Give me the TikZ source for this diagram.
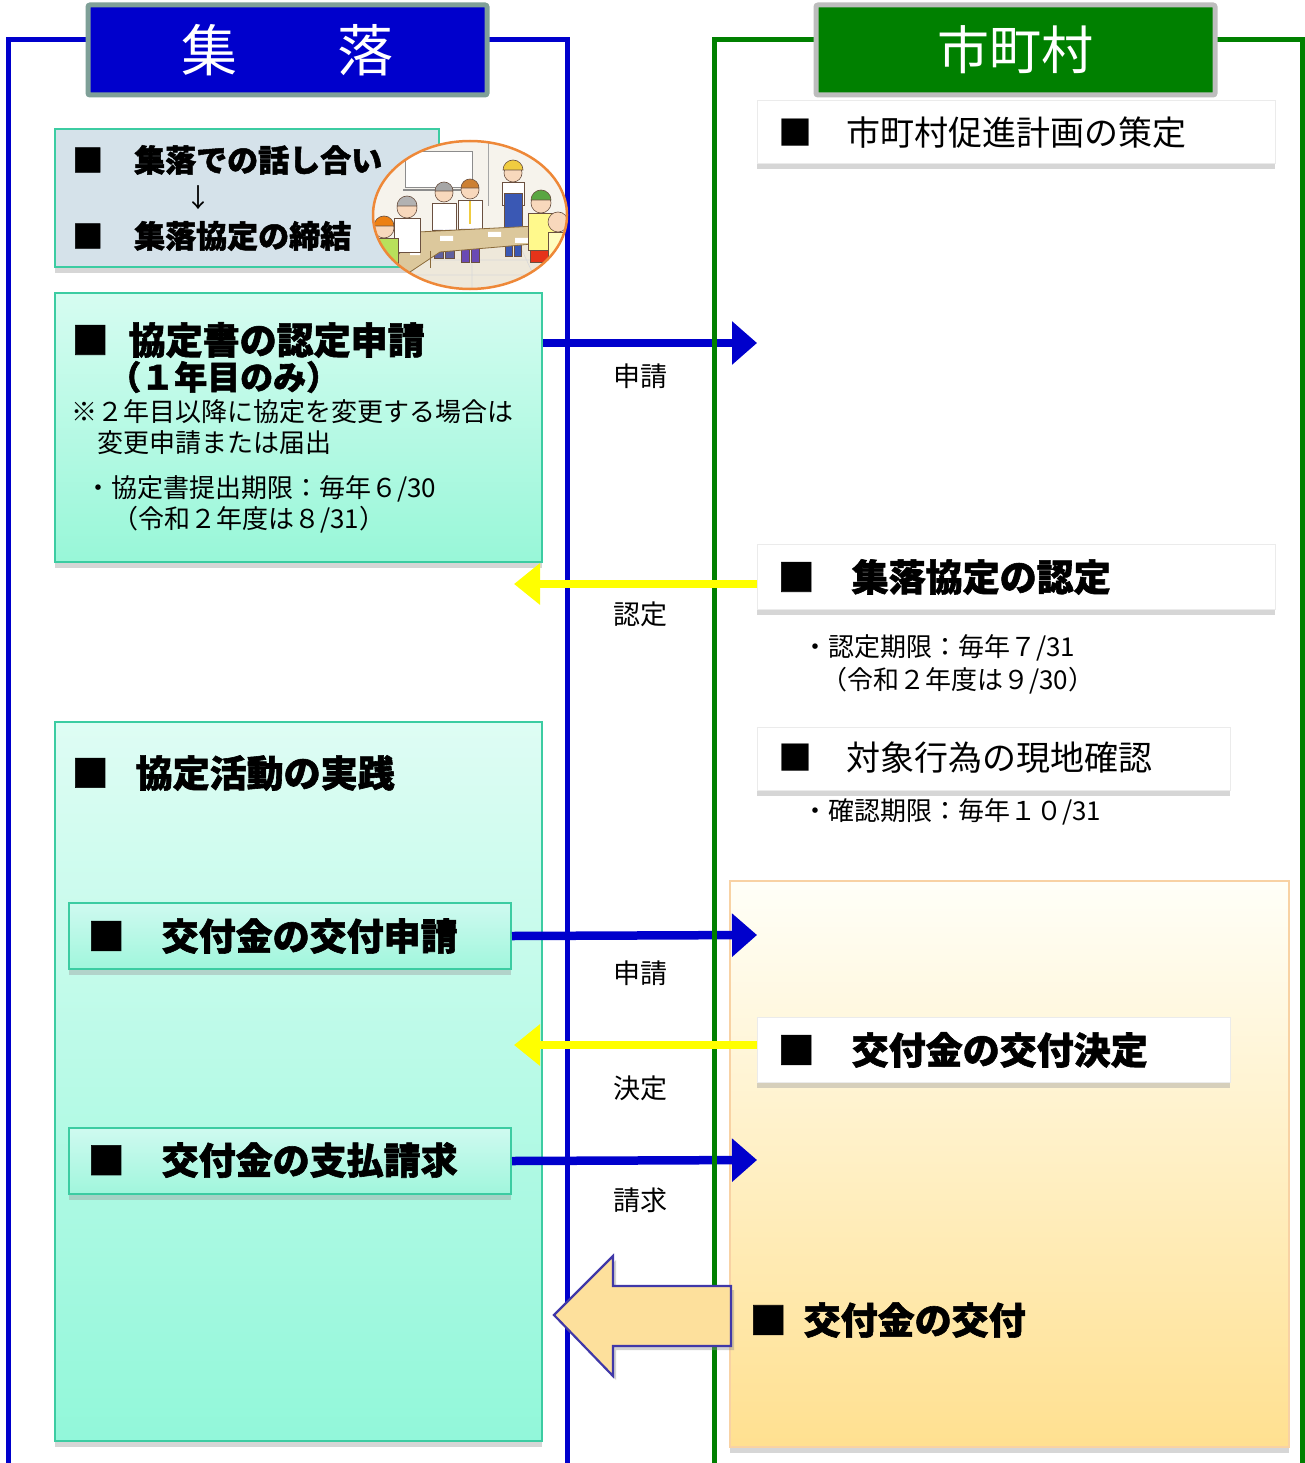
\documentclass[tikz,border=0pt]{standalone}
\usepackage{fontspec}
\setmainfont{Noto Sans CJK JP}[BoldFeatures={FakeBold=1.6}]
\usetikzlibrary{arrows.meta,shadows,calc}

\definecolor{frameblue}{HTML}{0000CC}
\definecolor{framegreen}{HTML}{008000}
\definecolor{titleblueedge}{HTML}{7FA098}
\definecolor{titlegreenedge}{HTML}{BDBDBD}
\definecolor{tealedge}{HTML}{3CCCA2}
\definecolor{talkfill}{HTML}{D5E2EA}
\definecolor{minttop}{HTML}{D6FCF1}
\definecolor{mintbottom}{HTML}{98F7D8}
\definecolor{inner top}{HTML}{CFFAF0}
\definecolor{innerbottom}{HTML}{A0F6DC}
\definecolor{creamtop}{HTML}{FFFFF8}
\definecolor{creambottom}{HTML}{FFE090}
\definecolor{creamedge}{HTML}{F8D2A4}
\definecolor{backyellow}{HTML}{FFFF00}
\definecolor{blockfill}{HTML}{FDE09C}
\definecolor{blockedge}{HTML}{4038A8}
\definecolor{ringorange}{HTML}{EE8838}
\definecolor{wallcol}{HTML}{F6F3EC}
\definecolor{floorcol}{HTML}{EEE8DA}
\definecolor{skin}{HTML}{F8D8BC}
\definecolor{ink}{HTML}{6A5040}
\definecolor{capyellow}{HTML}{F0CC40}
\definecolor{capgreen}{HTML}{5AA642}
\definecolor{overall}{HTML}{3A58B4}
\definecolor{pants}{HTML}{6A4AB4}
\definecolor{tabletop}{HTML}{DCC89C}
\definecolor{tableedge}{HTML}{8A6A3A}

\begin{document}
\begin{tikzpicture}[x=1pt,y=-1pt,
  boxtext/.style={anchor=west, inner sep=0pt, text=black},
  heavy/.style={boxtext, font=\fontsize{37}{40}\selectfont\bfseries},
  heavysm/.style={boxtext, font=\fontsize{31}{34}\selectfont\bfseries},
  plainbig/.style={boxtext, font=\fontsize{34}{38}\selectfont},
  note/.style={boxtext, font=\fontsize{26}{30}\selectfont},
  tag/.style={inner sep=0pt, font=\fontsize{27}{30}\selectfont},
  shadowed/.style={drop shadow={shadow xshift=0pt, shadow yshift=-6pt, fill=black!40, opacity=0.4}},
  panel/.style={rectangle, anchor=north west, inner sep=0pt, draw=tealedge, line width=2pt, shadowed},
  card/.style={rectangle, anchor=north west, inner sep=0pt, fill=white, draw=black!8, line width=0.8pt, shadowed},
  title/.style={rectangle, inner sep=0pt, line width=5pt, rounded corners=2pt, text=white,
    font=\fontsize{56}{60}\selectfont, minimum width=399pt, minimum height=90pt},
  push/.style={draw=frameblue, line width=8.5pt, -{Triangle[length=25pt,width=42pt]}},
  back/.style={draw=backyellow, line width=8pt, -{Triangle[length=26pt,width=40pt]}},
  person/.style={draw=ink, line width=0.6pt},
]
\useasboundingbox (0,0) rectangle (1305,1463);
\fill[white] (0,0) rectangle (1305,1463);

% ---------- village column ----------
\draw[frameblue, line width=5pt] (8,1470) -- (8,40) -- (567,40) -- (567,1470);

\node[panel, fill=talkfill, minimum width=384pt, minimum height=138pt] (talk) at (54,128) {};
\node[panel, top color=minttop, bottom color=mintbottom, minimum width=487pt, minimum height=269pt] (accord) at (54,292) {};
\node[panel, top color=minttop!80!white, bottom color=mintbottom!96!cyan, minimum width=487pt, minimum height=719pt] (practice) at (54,721) {};
\node[panel, top color=inner top, bottom color=innerbottom, minimum width=442pt, minimum height=66pt] (apply) at (68,902) {};
\node[panel, top color=inner top, bottom color=innerbottom, minimum width=442pt, minimum height=66pt] (claim) at (68,1127) {};

% meeting illustration
\begin{scope}
  \clip (470,215) ellipse [x radius=97pt, y radius=74pt];
  \fill[wallcol] (372,141) rectangle (567,289);
  \fill[floorcol] (372,246) rectangle (567,289);
  \draw[black!15, line width=0.6pt] (372,260) -- (567,260) (372,275) -- (567,275)
       (425,246) -- (405,289) (472,246) -- (472,289) (520,246) -- (540,289);
  \draw[black!35, line width=1pt] (420,141) -- (420,150) (488,141) -- (488,206);
  \draw[black!45, fill=white, line width=1pt] (405,152) rectangle (472,188);
  \draw[black!45, line width=1.6pt] (403,190) -- (474,190);
  % standing man with cap
  \filldraw[person, fill=white] (502,182) rectangle (524,205);
  \filldraw[person, fill=overall] (504,193) rectangle (522,238);
  \filldraw[person, fill=overall] (505,238) rectangle (512,256) (514,238) rectangle (521,256);
  \filldraw[person, fill=skin] (513,173) circle (9pt);
  \filldraw[person, fill=capyellow] (503,170) arc[start angle=180, end angle=0, radius=10pt] -- cycle;
  % two men behind the table
  \filldraw[person, fill=white] (458,200) rectangle (482,229);
  \draw[capyellow, line width=2pt] (470,201) -- (470,224);
  \filldraw[person, fill=pants] (461,229) rectangle (469,262) (471,229) rectangle (479,262);
  \filldraw[person, fill=skin] (470,190) circle (9pt);
  \filldraw[person, fill=brown!80!orange] (461,188) arc[start angle=180, end angle=0, radius=9pt] -- cycle;
  \filldraw[person, fill=white] (432,203) rectangle (456,230);
  \filldraw[person, fill=blue!25!gray] (434,230) rectangle (443,258) (445,230) rectangle (454,258);
  \filldraw[person, fill=skin] (444,193) circle (9pt);
  \filldraw[person, fill=black!35] (435,191) arc[start angle=180, end angle=0, radius=9pt] -- cycle;
  % table and papers
  \filldraw[draw=tableedge, fill=tabletop, line width=0.8pt]
     (418,232) -- (536,226) -- (557,242) -- (440,252) -- (398,280) -- (384,271) -- cycle;
  \draw[tableedge, line width=1pt] (430,251) -- (430,268) (540,243) -- (540,262);
  \fill[white] (440,236) rectangle (453,241) (488,232) rectangle (501,237) (515,238) rectangle (528,243) (410,250) rectangle (420,255);
  % seated people on the left
  \filldraw[person, fill=white] (394,218) rectangle (420,252);
  \filldraw[person, fill=skin] (407,208) circle (10pt);
  \filldraw[person, fill=black!30] (397,206) arc[start angle=180, end angle=0, radius=10pt] -- cycle;
  \filldraw[person, fill=yellow!60!green!70] (372,238) rectangle (398,278);
  \filldraw[person, fill=skin] (384,228) circle (10pt);
  \filldraw[person, fill=orange!70!brown] (374,226) arc[start angle=180, end angle=0, radius=10pt] -- cycle;
  % seated people on the right
  \filldraw[person, fill=yellow!45] (528,213) rectangle (556,250);
  \filldraw[person, fill=red!60!brown] (530,250) rectangle (556,262);
  \filldraw[person, fill=skin] (541,203) circle (10pt);
  \filldraw[person, fill=capgreen] (531,200) arc[start angle=180, end angle=0, radius=10pt] -- cycle;
  \filldraw[person, fill=yellow!25] (548,232) rectangle (572,266);
  \filldraw[person, fill=skin] (558,222) circle (10pt);
\end{scope}
\draw[ringorange, line width=2.5pt] (470,215) ellipse [x radius=97pt, y radius=74pt];

% ---------- municipality panels ----------
\node[card, minimum width=518pt, minimum height=63pt] (plan) at (757,100) {};
\node[card, minimum width=518pt, minimum height=65pt] (approve) at (757,544) {};
\node[card, minimum width=473pt, minimum height=63pt] (check) at (757,727) {};
\node[rectangle, anchor=north west, inner sep=0pt, draw=creamedge, line width=1.5pt,
      top color=creamtop, bottom color=creambottom, shadowed,
      minimum width=559pt, minimum height=566pt] (grant) at (729,880) {};
\node[card, minimum width=473pt, minimum height=65pt] (decide) at (757,1017) {};

% requests sent to the municipality
\coordinate (tipA) at (757,343);
\coordinate (tipC) at (757,935);
\coordinate (tipE) at (757,1160);
\draw[push] (accord.east |- tipA) -- (tipA);
\draw[push] (apply.east) -- (tipC);
\draw[push] (claim.east) -- (tipE);

% municipality frame
\draw[framegreen, line width=5pt] (714,1470) -- (714,40) -- (1302,40) -- (1302,1470);

% replies sent back to the village
\coordinate (tipB) at (514,584);
\coordinate (tipD) at (514,1045);
\draw[back] (approve.west |- tipB) -- (tipB);
\draw[back] (decide.west |- tipD) -- (tipD);

% payment block arrow
\path[draw=blockedge, fill=blockfill, line width=2.2pt, line join=miter,
      drop shadow={shadow xshift=3pt, shadow yshift=-4pt, fill=black!45, opacity=0.4}]
  (554,1315) -- (613,1256) -- (613,1286) -- (731,1286) -- (731,1346) -- (613,1346) -- (613,1376) -- cycle;

% ---------- column titles ----------
\node[title, draw=titleblueedge, fill=frameblue] (village) at (287.5,50) {集\hspace{100pt}落};
\node[title, draw=titlegreenedge, fill=framegreen, font=\fontsize{52}{56}\selectfont] (city) at (1015.5,50) {市町村};

% ---------- texts ----------
\node[heavysm] (talk1) at (72,160) {■　集落での話し合い};
\node[font=\fontsize{26}{30}\selectfont, inner sep=0pt] (talkdown) at (198,198) {↓};
\node[heavysm] (talk2) at (72,236) {■　集落協定の締結};

\node[heavy] (acc1) at (71.5,340) {■\hspace{20pt}協定書の認定申請};
\node[boxtext, font=\fontsize{33}{36}\selectfont\bfseries] (acc2) at (108,377) {（１年目のみ）};
\node[note] (acc3) at (71,412) {※２年目以降に協定を変更する場合は};
\node[note] (acc4) at (97,443) {変更申請または届出};
\node[note] (acc5) at (85,489) {・協定書提出期限：毎年６/30};
\node[note] (acc6) at (112,520) {（令和２年度は８/31）};

\node[heavy] (prac1) at (71.5,773) {■\hspace{27pt}協定活動の実践};
\node[heavy] (apply1) at (87.5,936) {■　交付金の交付申請};
\node[heavy] (claim1) at (87.5,1160) {■　交付金の支払請求};

\node[plainbig] (plan1) at (778,133) {■　市町村促進計画の策定};
\node[heavy] (approve1) at (777.5,577) {■　集落協定の認定};
\node[note] (dl1) at (802,648) {・認定期限：毎年７/31};
\node[note] (dl2) at (821,681) {（令和２年度は９/30）};
\node[plainbig] (check1) at (778,758) {■　対象行為の現地確認};
\node[note] (dl3) at (802,812) {・確認期限：毎年１０/31};
\node[heavy] (decide1) at (777.5,1050) {■　交付金の交付決定};
\node[heavy] (grant1) at (749.5,1320) {■\hspace{17pt}交付金の交付};

% arrow labels
\node[tag] (lblA) at (640,376) {申請};
\node[tag] (lblB) at (640,614) {認定};
\node[tag] (lblC) at (640,973) {申請};
\node[tag] (lblD) at (640,1088) {決定};
\node[tag] (lblE) at (640,1200) {請求};
\end{tikzpicture}
\end{document}
